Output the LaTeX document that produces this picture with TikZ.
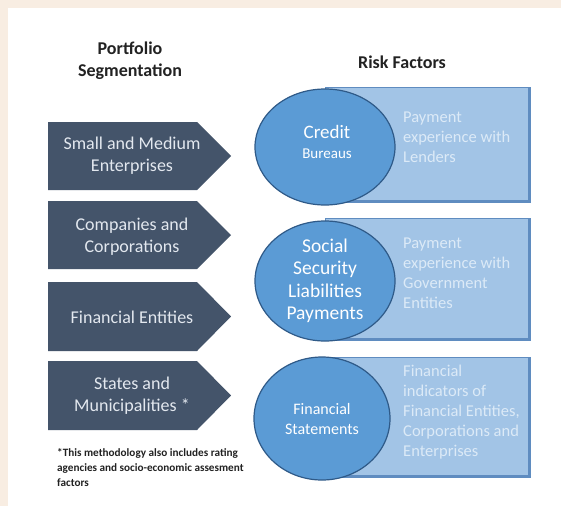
\documentclass[tikz,border=0pt]{standalone}
\usepackage{fontspec}
\setmainfont{Carlito}
\usetikzlibrary{shapes.geometric}
\definecolor{bgbeige}{HTML}{F8EDE2}
\definecolor{arrowfill}{HTML}{44546A}
\definecolor{arrowtext}{HTML}{E3E8EF}
\definecolor{circfill}{HTML}{5B9BD5}
\definecolor{circedge}{HTML}{2F5A88}
\definecolor{boxfill}{HTML}{A2C4E6}
\definecolor{boxedge}{HTML}{5F8CC0}
\definecolor{boxtext}{HTML}{DCEAF7}
\definecolor{headtext}{HTML}{222222}
\tikzset{
  segarrow/.style={fill=arrowfill},
  segtext/.style={text=arrowtext, align=center, font=\fontsize{18}{22}\selectfont},
  riskbox/.style={fill=boxfill, draw=boxedge, line width=1pt},
  riskcirc/.style={ellipse, fill=circfill, draw=circedge, line width=1.2pt, inner sep=0pt, text=white, align=center},
  circtxt/.style={text=white, align=center, inner sep=0pt},
  boxtxt/.style={text=boxtext, align=left, anchor=north west, inner sep=0pt, font=\fontsize{16.5}{20}\selectfont},
  header/.style={text=headtext, align=center, font=\bfseries\fontsize{18}{22}\selectfont}
}
\begin{document}
\begin{tikzpicture}[x=1pt,y=-1pt]
\useasboundingbox (0,0) rectangle (561,506);
\fill[bgbeige] (0,0) rectangle (561,506);
\fill[white] (8,8) rectangle (561,506);

% headers
\node[header] (hseg) at (130,61) {Portfolio\\Segmentation};
\node[header] (hrisk) at (402,62) {Risk Factors};

% segmentation arrows
\fill[segarrow] (48,122) -- (197,122) -- (231,156) -- (197,190) -- (48,190) -- cycle;
\fill[segarrow] (48,201) -- (197,201) -- (231,235) -- (197,269) -- (48,269) -- cycle;
\fill[segarrow] (48,282) -- (197,282) -- (231,316.5) -- (197,351) -- (48,351) -- cycle;
\fill[segarrow] (48,361) -- (197,361) -- (231,395.5) -- (197,430) -- (48,430) -- cycle;
\node[segtext] (s1) at (132,156) {Small and Medium\\Enterprises};
\node[segtext] (s2) at (132,237) {Companies and\\Corporations};
\node[segtext] (s3) at (132,317) {Financial Entities};
\node[segtext] (s4) at (132,396) {States and\\Municipalities *};

% footnote
\node[text=headtext, align=left, anchor=north west, inner sep=0pt,
      font=\bfseries\fontsize{11.2}{15}\selectfont] (foot) at (57,448)
  {*This methodology also includes rating\\agencies and socio-economic assesment\\factors};

% risk boxes
\draw[riskbox] (325,87) rectangle (530,202);
\draw[riskbox] (325,218) rectangle (530,340);
\draw[riskbox] (325,357) rectangle (530,477);
\draw[boxedge, line width=3pt] (529,88) -- (529,201) -- (330,201);
\draw[boxedge, line width=3pt] (529,219) -- (529,339) -- (330,339);
\draw[boxedge, line width=3pt] (529,358) -- (529,476) -- (330,476);

\node[boxtxt] (b1) at (403,112) {Payment\\experience with\\Lenders};
\node[boxtxt] (b2) at (403,238) {Payment\\experience with\\Government\\Entities};
\node[boxtxt] (b3) at (403,365) {Financial\\indicators of\\Financial Entities,\\Corporations and\\Enterprises};

% risk circles
\node[riskcirc, minimum width=140pt, minimum height=116pt] (c1) at (325,147) {};
\node[circtxt, font=\fontsize{19}{21}\selectfont] (c1a) at (327,132) {Credit};
\node[circtxt, font=\fontsize{15}{19}\selectfont] (c1b) at (327,154) {Bureaus};
\node[riskcirc, minimum width=140pt, minimum height=120pt,
      font=\fontsize{19.5}{22.5}\selectfont] (c2) at (325,281)
  {Social\\Security\\Liabilities\\Payments};
\node[riskcirc, minimum width=136pt, minimum height=123pt,
      font=\fontsize{16}{20}\selectfont] (c3) at (322,418.5)
  {Financial\\Statements};
\end{tikzpicture}
\end{document}
